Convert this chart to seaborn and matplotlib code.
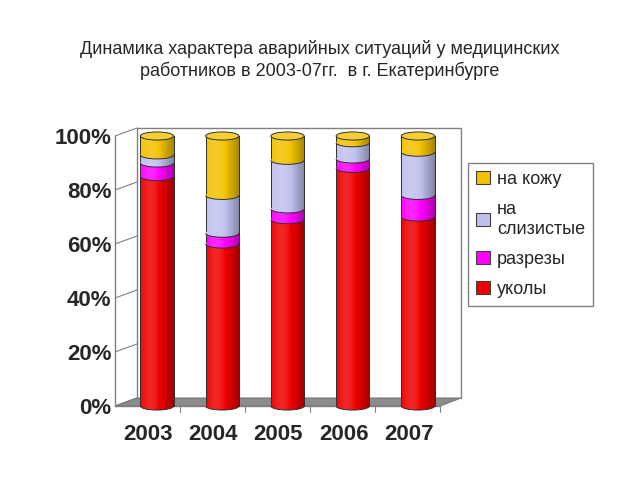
import numpy as np
import pandas as pd
import matplotlib
matplotlib.use("Agg")
import matplotlib.pyplot as plt
import seaborn as sns
from matplotlib.patches import Ellipse, Arc, Polygon, Patch
from matplotlib.transforms import ScaledTranslation
import matplotlib.colors as mcolors

# ---- data (percent shares) ----
years = ["2003", "2004", "2005", "2006", "2007"]
ukoly = [85, 60, 69, 88, 70]        # уколы
razrezy = [5, 4, 4, 3.5, 8]         # разрезы
slizistye = [3, 14, 18, 6, 16]      # на слизистые
kozhu = [7, 22, 9, 2.5, 6]          # на кожу
series_names = ["уколы", "разрезы", "на\nслизистые", "на кожу"]
colors = ["#EE0000", "#FF00FF", "#C0C0F0", "#F2C200"]
ytick_vals = [0, 20, 40, 60, 80, 100]
title = "Динамика характера аварийных ситуаций у медицинских\nработников в 2003-07гг.  в г. Екатеринбурге"

sns.set_style("white")
plt.rcParams["font.family"] = ["Liberation Sans", "DejaVu Sans"]

fig = plt.figure(figsize=(6.4, 4.8), dpi=100)
ax = fig.add_axes([115 / 640, 1 - 412 / 480, 355 / 640, 292 / 480])

def px_x(p):
    return (p - 157) / 65.25

def px_y(p):
    return (406 - p) / 270

XL = (px_x(115), px_x(470))
YL = (px_y(412), px_y(120))

df = pd.DataFrame({"year": years,
                   "уколы": ukoly, "разрезы": razrezy,
                   "на слизистые": slizistye, "на кожу": kozhu})
tot = df[["уколы", "разрезы", "на слизистые", "на кожу"]].sum(axis=1)
layers = [df["уколы"] / tot,
          (df["уколы"] + df["разрезы"]) / tot,
          (df["уколы"] + df["разрезы"] + df["на слизистые"]) / tot,
          tot / tot]

BW = 0.51
EH = 0.03  # ellipse height in data units

def profile(n=80):
    t = np.linspace(0, 1, n)
    return 0.15 * np.exp(-((t - 0.3) / 0.25) ** 2) - 0.32 * np.clip((t - 0.45) / 0.55, 0, 1) ** 1.4

def shaded_img(color):
    rgb = np.array(mcolors.to_rgb(color))
    L = profile()
    out = np.empty((1, len(L), 3))
    for i, l in enumerate(L):
        if l >= 0:
            out[0, i] = rgb + (1 - rgb) * l
        else:
            out[0, i] = rgb * (1 + l)
    return np.clip(out, 0, 1)

def shade(patch, color, x0, w, y0, h, z):
    im = ax.imshow(shaded_img(color), extent=[x0, x0 + w, y0, y0 + h],
                   aspect="auto", interpolation="bilinear", zorder=z)
    im.set_clip_path(patch)
    im.set_clip_on(True)
    return im

# ---- decorations: back wall, floor, left wall ----
gray = "#808080"
ax.plot([px_x(137), px_x(137), px_x(461), px_x(461)],
        [px_y(398), px_y(128), px_y(128), px_y(398)], color=gray, lw=1, zorder=0.5)
floor = Polygon([(px_x(115), px_y(406)), (px_x(137), px_y(398)),
                 (px_x(461), px_y(398)), (px_x(440), px_y(406))],
                closed=True, facecolor="#8c8c8c", edgecolor="#777777", lw=0.8, zorder=0.6)
ax.add_patch(floor)
for v in ytick_vals:
    ax.plot([px_x(115), px_x(137)], [v / 100, v / 100 + px_y(398)], color=gray, lw=0.8, zorder=0.5)
ax.plot([px_x(115), px_x(440)], [0, 0], color=gray, lw=1, zorder=0.7)
for k in range(1, 6):
    xx = px_x(115 + 65 * k)
    ax.plot([xx, xx], [0, px_y(412)], color=gray, lw=0.8, clip_on=False, zorder=0.7)

# ---- bars (layered cumulative) ----
order = [3, 2, 1, 0]
for zi, li in enumerate(order):
    before = len(ax.patches)
    sns.barplot(x=df["year"], y=layers[li], color=colors[li], saturation=1,
                width=BW, edgecolor="#303030", linewidth=0.7, ax=ax, order=years)
    for p in ax.patches[before:]:
        z = 2 + zi
        p.set_zorder(z)
        shade(p, colors[li], p.get_x(), p.get_width(), p.get_y(), p.get_height(), z - 0.05)
        p.set_facecolor("none")

# curved boundaries (front arcs) and caps
for li in range(4):
    for i in range(len(years)):
        xc = i
        if li == 0:
            yb = 0.0
        else:
            yb = layers[li - 1][i]
        e = Ellipse((xc, yb), BW, EH, facecolor="none", edgecolor="none", zorder=10)
        ax.add_patch(e)
        shade(e, colors[li], xc - BW / 2, BW, yb - EH / 2, EH, 10)
        ax.add_patch(Arc((xc, yb), BW, EH, theta1=180, theta2=360,
                         edgecolor="#303030", lw=0.7, zorder=11))
        if li == 3:
            yt = layers[3][i]
            cap_col = np.array(mcolors.to_rgb(colors[3]))
            cap_col = cap_col + (1 - cap_col) * 0.2
            ax.add_patch(Ellipse((xc, yt), BW, EH, facecolor=cap_col,
                                 edgecolor="#303030", lw=0.7, zorder=12))

# ---- axes styling ----
ax.set_xlim(*XL)
ax.set_ylim(*YL)
ax.set_xlabel("")
ax.set_ylabel("")
for s in ["top", "right", "bottom"]:
    ax.spines[s].set_visible(False)
ax.spines["left"].set_color(gray)
ax.spines["left"].set_linewidth(1)
ax.spines["left"].set_bounds(0, 1)
ax.set_yticks([v / 100 for v in ytick_vals])
ax.set_yticklabels([f"{v}%" for v in ytick_vals], fontsize=16, fontweight="bold")
ax.tick_params(axis="y", length=4.5, width=0.8, color=gray, direction="out", pad=-2)
ax.set_xticks(range(len(years)))
ax.set_xticklabels(years, fontsize=16, fontweight="bold")
ax.tick_params(axis="x", length=0, pad=9)
off = ScaledTranslation(-9 / 100, 0, fig.dpi_scale_trans)
for lab in ax.get_xticklabels():
    lab.set_transform(lab.get_transform() + off)
ax.set_facecolor("white")

# ---- legend ----
handles = [Patch(facecolor=colors[i], edgecolor="#404040", lw=0.8) for i in [3, 2, 1, 0]]
labels = [series_names[i] for i in [3, 2, 1, 0]]
leg = fig.legend(handles, labels, loc="upper left",
                 bbox_to_anchor=(468 / 640, 1 - 163 / 480), fontsize=13,
                 frameon=True, fancybox=False, edgecolor="#606060",
                 handlelength=0.75, handleheight=0.75, handletextpad=0.4,
                 labelspacing=0.72, borderpad=0.45, borderaxespad=0)
leg.get_frame().set_linewidth(1)

fig.text(0.5, 1 - 60 / 480, title, ha="center", va="center", fontsize=13,
         linespacing=1.3)

fig.savefig("out.png", dpi=100)
